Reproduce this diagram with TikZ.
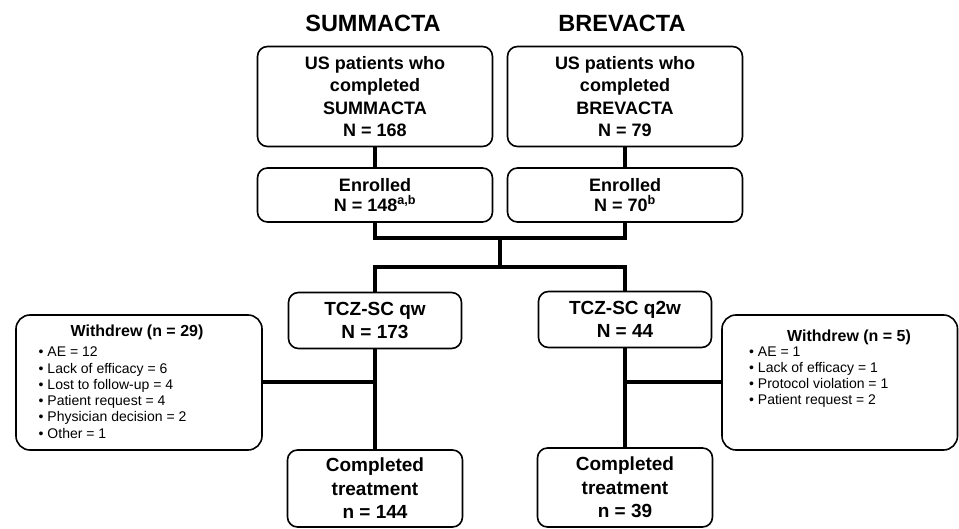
\documentclass[tikz,border=0pt]{standalone}
\usepackage{fontspec}
\setmainfont{Liberation Sans}
\begin{document}
\begin{tikzpicture}[x=1pt,y=-1pt,
  box/.style={draw, line width=1.6pt, rounded corners=10pt, align=center, inner sep=0pt},
  topbox/.style={box, font=\bfseries\fontsize{18}{22.3}\selectfont, minimum width=235pt, minimum height=100pt},
  enrbox/.style={box, font=\bfseries\fontsize{18}{19.5}\selectfont, minimum width=235pt, minimum height=54pt},
  armbox/.style={box, font=\bfseries\fontsize{19}{23}\selectfont, minimum width=173pt, minimum height=56pt},
  compbox/.style={box, font=\bfseries\fontsize{19}{23.5}\selectfont, minimum width=175pt},
  wbox/.style={draw, line width=1.6pt, rounded corners=14pt, inner sep=0pt, minimum height=135pt},
  wtitle/.style={anchor=base, inner sep=0pt, font=\bfseries\fontsize{16}{19}\selectfont},
  witem/.style={anchor=base west, inner sep=0pt, font=\fontsize{14}{16}\selectfont},
  ttl/.style={anchor=base, inner sep=0pt, font=\bfseries\fontsize{23.5}{28}\selectfont},
  conn/.style={line width=4pt}]
\useasboundingbox (0,0) rectangle (959,529);

% titles
\node[ttl] (t1) at (373,32) {SUMMACTA};
\node[ttl] (t2) at (622,32) {BREVACTA};

% top boxes
\node[topbox] (b1) at (375,96.5) {US patients who\\completed\\SUMMACTA\\N = 168};
\node[topbox] (b2) at (625,96.5) {US patients who\\completed\\BREVACTA\\N = 79};

% enrolled
\node[enrbox] (e1) at (375,195) {Enrolled\\N = 148\textsuperscript{a,b}};
\node[enrbox] (e2) at (625,195) {Enrolled\\N = 70\textsuperscript{b}};

% arms
\node[armbox] (q1) at (375,320.5) {TCZ-SC qw\\N = 173};
\node[armbox] (q2) at (625,319.5) {TCZ-SC q2w\\N = 44};

% completed
\node[compbox, minimum height=77pt] (c1) at (375,488.5) {Completed\\treatment\\n = 144};
\node[compbox, minimum height=79pt] (c2) at (625,487.5) {Completed\\treatment\\n = 39};

% withdrew boxes
\node[wbox, minimum width=246pt] (w1) at (139,382.5) {};
\node[wtitle] (w1t) at (137,337) {Withdrew (n = 29)};
\foreach \txt [count=\i] in {AE = 12, Lack of efficacy = 6, Lost to follow-up = 4, Patient request = 4, Physician decision = 2, Other = 1}
  \node[witem] (w1i\i) at (38.5,{357+16.2*(\i-1)}) {\textbullet\ \txt};

\node[wbox, minimum width=235.5pt] (w2) at (839.75,382.5) {};
\node[wtitle] (w2t) at (849,342) {Withdrew (n = 5)};
\foreach \txt [count=\i] in {AE = 1, Lack of efficacy = 1, Protocol violation = 1, Patient request = 2}
  \node[witem] (w2i\i) at (749,{356.5+15.9*(\i-1)}) {\textbullet\ \txt};

% connectors
\coordinate (j1) at (500,238);
\coordinate (j2) at (500,267);
\draw[conn] (b1.south) -- (e1.north);
\draw[conn] (b2.south) -- (e2.north);
\draw[conn] (e1.south) |- (j1) -| (e2.south);
\draw[conn] (j1) -- (j2);
\draw[conn] (q1.north) |- (j2) -| (q2.north);
\draw[conn] (q1.south) -- (c1.north);
\draw[conn] (q2.south) -- (c2.north);
\draw[conn] (w1.east) -- (w1.east -| q1.south);
\draw[conn] (w2.west) -- (w2.west -| q2.south);
\end{tikzpicture}
\end{document}
